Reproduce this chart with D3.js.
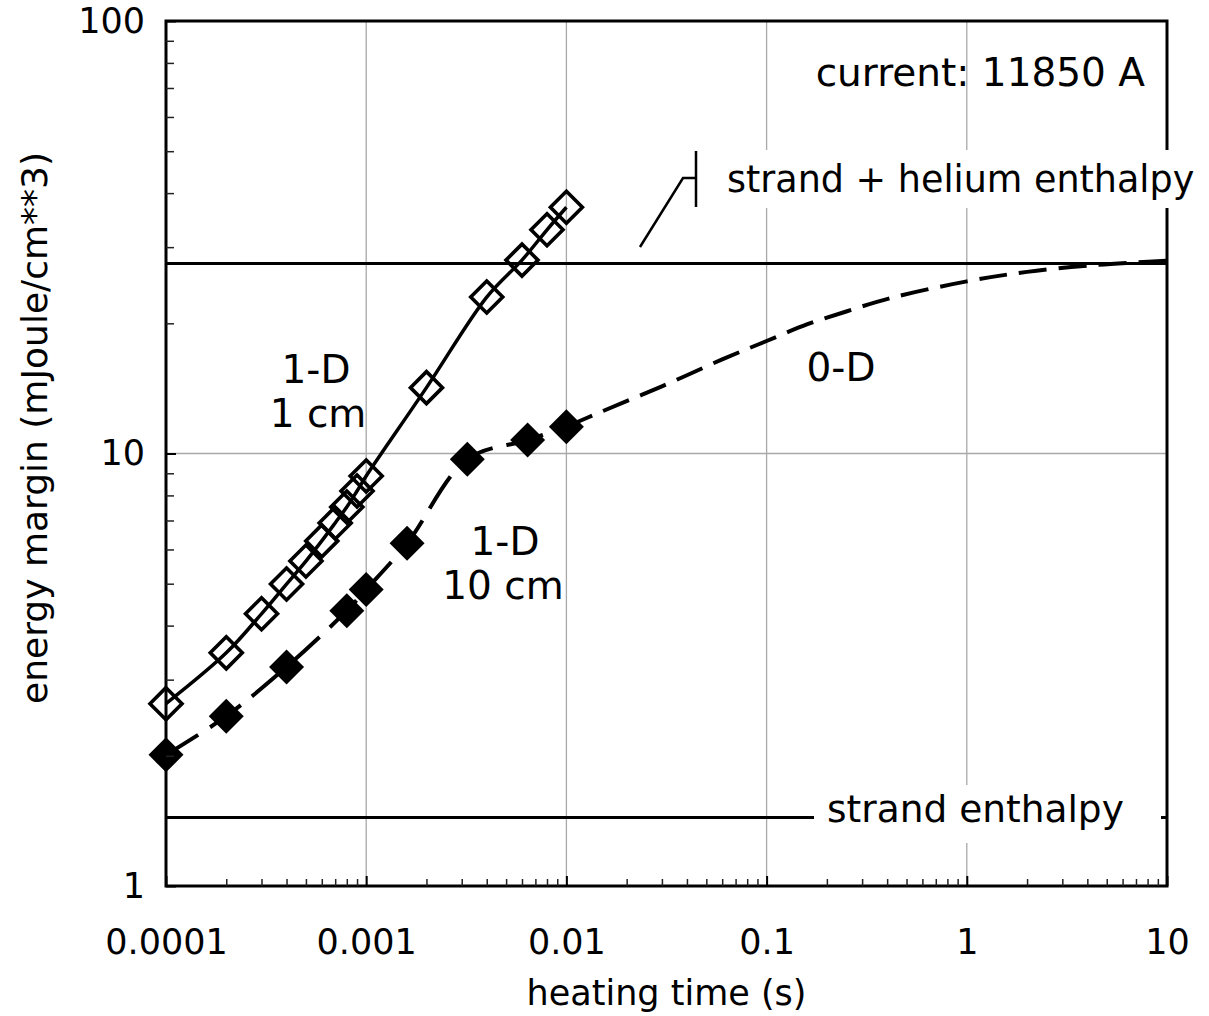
<!DOCTYPE html>
<html>
<head>
<meta charset="utf-8">
<script src="https://cdn.jsdelivr.net/npm/d3@7"></script>
<style>
  body { margin: 0; background: #fff; }
  text { font-family: "DejaVu Sans", Verdana, sans-serif; fill: #000; }
</style>
</head>
<body>
<div id="chart"></div>
<script>
// 1-D, 1 cm (open diamonds, solid line)
const oneCmTime = [0.0001, 0.0002, 0.0003, 0.0004, 0.0005, 0.0006, 0.0007, 0.0008, 0.0009, 0.001, 0.002, 0.004, 0.006, 0.008, 0.01];
const oneCmMargin = [2.64, 3.46, 4.26, 4.99, 5.64, 6.28, 6.91, 7.52, 8.19, 8.87, 14.2, 23.0, 28.0, 32.9, 37.1];

// 1-D, 10 cm (filled diamonds, dashed line)
const tenCmTime = [0.0001, 0.0002, 0.0004, 0.0008, 0.001, 0.0016, 0.0032, 0.0064, 0.01];
const tenCmMargin = [2.01, 2.47, 3.21, 4.33, 4.85, 6.2, 9.7, 10.74, 11.53];

// 0-D (dashed, no markers)
const zeroDTime = [0.01, 0.015, 0.03, 0.06, 0.1, 0.16, 0.25, 0.42, 1, 2, 4.5, 10];
const zeroDMargin = [11.53, 12.5, 14.3, 16.5, 18.2, 19.9, 21.3, 22.9, 25.0, 26.3, 27.3, 27.9];

// reference levels
const strandHeliumEnthalpy = 27.5;
const strandEnthalpy = 1.44;

const xTickValues = [0.0001, 0.001, 0.01, 0.1, 1, 10];
const xTickLabels = ["0.0001", "0.001", "0.01", "0.1", "1", "10"];
const yTickValues = [1, 10, 100];
const yTickLabels = ["1", "10", "100"];

const w = 1209;
const h = 1016;
const margin = {top: 21, right: 42, bottom: 130, left: 166};

const svg = d3.select("#chart").append("svg")
  .attr("width", w)
  .attr("height", h);

svg.append("rect").attr("width", w).attr("height", h).attr("fill", "#fff");

const x = d3.scaleLog().domain([1e-4, 10]).range([margin.left, w - margin.right]);
const y = d3.scaleLog().domain([1, 100]).range([h - margin.bottom, margin.top]);

const x0 = x.range()[0], x1 = x.range()[1];
const yb = y.range()[0], yt = y.range()[1];

// grid lines
svg.append("g").selectAll("line")
  .data(xTickValues.slice(1, -1))
  .join("line")
  .attr("x1", d => x(d)).attr("x2", d => x(d))
  .attr("y1", yt).attr("y2", yb)
  .attr("stroke", "#a8a8a8").attr("stroke-width", 1.3);

svg.append("g").selectAll("line")
  .data([10])
  .join("line")
  .attr("x1", x0).attr("x2", x1)
  .attr("y1", d => y(d)).attr("y2", d => y(d))
  .attr("stroke", "#a8a8a8").attr("stroke-width", 1.3);

// enthalpy levels
svg.append("g").selectAll("line")
  .data([strandHeliumEnthalpy, strandEnthalpy])
  .join("line")
  .attr("x1", x0).attr("x2", x1)
  .attr("y1", d => y(d)).attr("y2", d => y(d))
  .attr("stroke", "#000").attr("stroke-width", 3);

const line = d3.line()
  .x(d => x(d[0]))
  .y(d => y(d[1]))
  .curve(d3.curveCatmullRom.alpha(0.5));

const oneCm = d3.zip(oneCmTime, oneCmMargin);
const tenCm = d3.zip(tenCmTime, tenCmMargin);
const zeroD = d3.zip(zeroDTime, zeroDMargin);

svg.append("path").datum(oneCm)
  .attr("d", line).attr("fill", "none")
  .attr("stroke", "#000").attr("stroke-width", 3.5);

svg.append("path").datum(tenCm)
  .attr("d", line).attr("fill", "none")
  .attr("stroke", "#000").attr("stroke-width", 4)
  .attr("stroke-dasharray", "38,14");

svg.append("path").datum(zeroD)
  .attr("d", line).attr("fill", "none")
  .attr("stroke", "#000").attr("stroke-width", 4)
  .attr("stroke-dasharray", "28,12");

// diamond markers
const diamond = r => `M0,${-r}L${r},0L0,${r}L${-r},0Z`;

svg.append("g").selectAll("path")
  .data(oneCm)
  .join("path")
  .attr("d", diamond(16))
  .attr("transform", d => `translate(${x(d[0])},${y(d[1])})`)
  .attr("fill", "none")
  .attr("stroke", "#000").attr("stroke-width", 3.6);

svg.append("g").selectAll("path")
  .data(tenCm)
  .join("path")
  .attr("d", diamond(17.5))
  .attr("transform", d => `translate(${x(d[0])},${y(d[1])})`)
  .attr("fill", "#000");

// plot frame
svg.append("rect")
  .attr("x", x0).attr("y", yt)
  .attr("width", x1 - x0).attr("height", yb - yt)
  .attr("fill", "none").attr("stroke", "#000").attr("stroke-width", 3);

// axes: minor ticks
const minorX = x.ticks().filter(d => !xTickValues.some(v => Math.abs(v - d) / v < 1e-9));
const minorY = y.ticks().filter(d => !yTickValues.some(v => Math.abs(v - d) / v < 1e-9));

const xMinor = svg.append("g")
  .attr("transform", `translate(0,${yb})`)
  .call(d3.axisBottom(x).tickValues(minorX).tickSize(-7).tickFormat(""));
xMinor.select(".domain").remove();
xMinor.selectAll(".tick line").attr("stroke", "#222").attr("stroke-width", 1.5);

const yMinor = svg.append("g")
  .attr("transform", `translate(${x0},0)`)
  .call(d3.axisLeft(y).tickValues(minorY).tickSize(-8).tickFormat(""));
yMinor.select(".domain").remove();
yMinor.selectAll(".tick line").attr("stroke", "#222").attr("stroke-width", 1.5);

// axes: major ticks + labels
const xAxis = svg.append("g")
  .attr("transform", `translate(0,${yb})`)
  .call(d3.axisBottom(x).tickValues(xTickValues).tickSize(-10).tickPadding(43)
    .tickFormat((d, i) => xTickLabels[i]));
xAxis.select(".domain").remove();
xAxis.selectAll(".tick line").attr("stroke", "#000").attr("stroke-width", 2);
xAxis.selectAll("text").attr("font-size", 35).attr("font-family", "DejaVu Sans").attr("fill", "#000");

const yAxis = svg.append("g")
  .attr("transform", `translate(${x0},0)`)
  .call(d3.axisLeft(y).tickValues(yTickValues).tickSize(-10).tickPadding(21)
    .tickFormat((d, i) => yTickLabels[i]));
yAxis.select(".domain").remove();
yAxis.selectAll(".tick line").attr("stroke", "#000").attr("stroke-width", 2);
yAxis.selectAll("text").attr("font-size", 35).attr("font-family", "DejaVu Sans").attr("fill", "#000");

// axis titles
svg.append("text")
  .attr("x", (x0 + x1) / 2).attr("y", 1005)
  .attr("text-anchor", "middle")
  .attr("font-size", 35)
  .text("heating time (s)");

svg.append("text")
  .attr("transform", `translate(47,428) rotate(-90)`)
  .attr("text-anchor", "middle")
  .attr("font-size", 36)
  .text("energy margin (mJoule/cm**3)");

// label boxes (white background behind labels)
svg.append("rect")
  .attr("x", 700).attr("y", 150).attr("width", 509).attr("height", 58)
  .attr("fill", "#fff");
svg.append("rect")
  .attr("x", 814).attr("y", 785).attr("width", 347).attr("height", 58)
  .attr("fill", "#fff");

// leader line for the helium label
svg.append("path")
  .attr("d", "M640,247L683,178L696,178M696,151L696,207")
  .attr("fill", "none").attr("stroke", "#000").attr("stroke-width", 2.5);

// annotations
const fs = 39;
svg.append("text").attr("x", 1145).attr("y", 86).attr("text-anchor", "end")
  .attr("font-size", fs).text("current: 11850 A");
svg.append("text").attr("x", 727).attr("y", 192)
  .attr("font-size", 36.5)
  .text("strand + helium enthalpy");
svg.append("text").attr("x", 827).attr("y", 822)
  .attr("font-size", 37.5).text("strand enthalpy");

svg.append("text").attr("x", 316).attr("y", 383).attr("text-anchor", "middle")
  .attr("font-size", fs).text("1-D");
svg.append("text").attr("x", 318).attr("y", 427).attr("text-anchor", "middle")
  .attr("font-size", fs).text("1 cm");
svg.append("text").attr("x", 505).attr("y", 555).attr("text-anchor", "middle")
  .attr("font-size", fs).text("1-D");
svg.append("text").attr("x", 503).attr("y", 599).attr("text-anchor", "middle")
  .attr("font-size", fs).text("10 cm");
svg.append("text").attr("x", 841).attr("y", 381).attr("text-anchor", "middle")
  .attr("font-size", fs).text("0-D");
</script>
</body>
</html>
